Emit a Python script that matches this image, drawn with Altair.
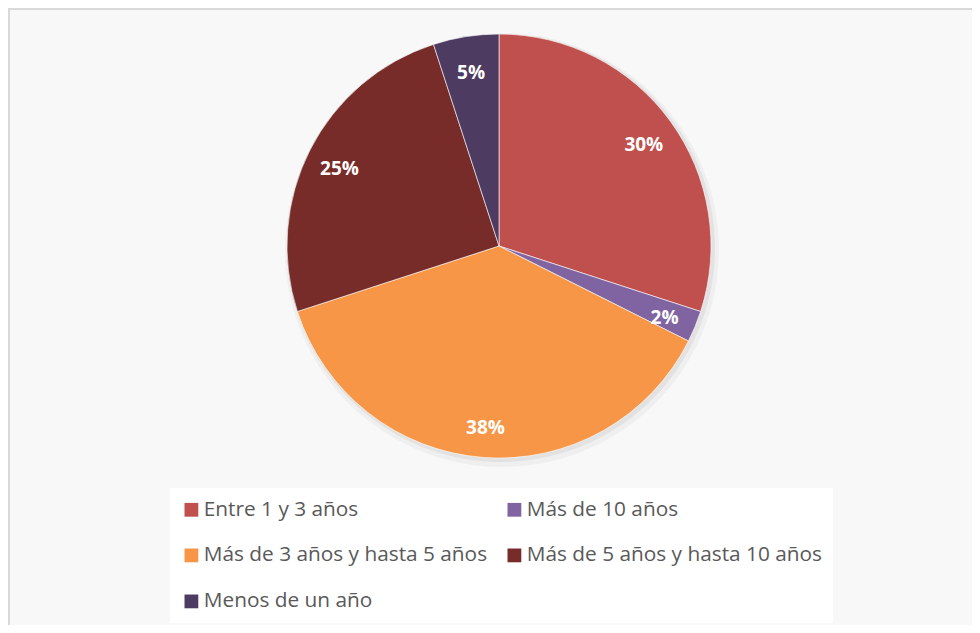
import altair as alt
import pandas as pd

categories = [
    "Entre 1 y 3 años",
    "Más de 10 años",
    "Más de 3 años y hasta 5 años",
    "Más de 5 años y hasta 10 años",
    "Menos de un año",
]
values = [30.0, 2.4, 37.6, 25.0, 5.0]
colors = ["#C0504D", "#8064A2", "#F79646", "#772C2A", "#4D3B62"]
# legend is filled column by column; this order reproduces the row-wise reading
legend_order = [
    "Entre 1 y 3 años",
    "Más de 3 años y hasta 5 años",
    "Menos de un año",
    "Más de 10 años",
    "Más de 5 años y hasta 10 años",
]

df = pd.DataFrame({"category": categories, "value": values, "order": list(range(len(categories)))})

W, H = 964, 617
CX, CY = 491, 238
R = 212
FONT = "Open Sans"

base = alt.Chart(df)

theta = alt.Theta("value:Q", stack=True)
order = alt.Order("order:Q")

shadow1 = base.mark_arc(radius=R + 5, color="#000000", opacity=0.035).encode(
    theta=theta, order=order, x=alt.value(CX + 3), y=alt.value(CY + 4)
)
shadow2 = base.mark_arc(radius=R + 2, color="#000000", opacity=0.05).encode(
    theta=theta, order=order, x=alt.value(CX + 2), y=alt.value(CY + 2)
)

pie = base.mark_arc(radius=R, stroke="#ffffff", strokeWidth=0.6).encode(
    theta=theta,
    order=order,
    color=alt.Color(
        "category:N",
        scale=alt.Scale(domain=categories, range=colors),
        legend=alt.Legend(
            title=None,
            orient="none",
            legendX=162,
            legendY=480,
            columns=2,
            values=legend_order,
            symbolType="square",
            symbolSize=190,
            symbolStrokeWidth=0,
            labelFont=FONT,
            labelFontSize=20.8,
            labelColor="#595959",
            labelLimit=400,
            rowPadding=24,
            columnPadding=16,
            fillColor="#ffffff",
            padding=11,
            labelOffset=2,
        ),
    ),
    x=alt.value(CX),
    y=alt.value(CY),
)

labels = base.mark_text(
    radius=179, dy=4, font=FONT, fontSize=19, fontWeight="bold", color="#ffffff"
).encode(
    theta=theta,
    order=order,
    detail="category:N",
    text=alt.Text("pct:Q", format=".0%"),
    x=alt.value(CX),
    y=alt.value(CY),
).transform_joinaggregate(total="sum(value)").transform_calculate(
    pct="datum.value / datum.total"
)

top_rule = alt.Chart(df).mark_rule(color="#d9d9d9", strokeWidth=2).encode(
    x=alt.value(0), x2=alt.value(W), y=alt.value(1)
)
left_rule = alt.Chart(df).mark_rule(color="#d9d9d9", strokeWidth=2).encode(
    x=alt.value(1), y=alt.value(0), y2=alt.value(H)
)

chart = (
    alt.layer(top_rule, left_rule, shadow1, shadow2, pie, labels)
    .properties(
        width=W,
        height=H,
        autosize=alt.AutoSizeParams(type="none"),
        padding=0,
        background="#f8f8f8",
    )
    .configure_view(stroke=None)
)

chart.save("out.html", embed_options={"renderer": "svg", "actions": False})
